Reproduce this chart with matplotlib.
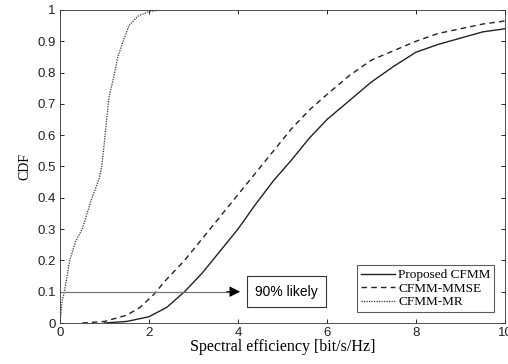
import matplotlib
matplotlib.use("Agg")
import matplotlib.pyplot as plt

# Proposed CFMM (solid)
prop_x = [1.0, 1.5, 2.0, 2.4, 2.8, 3.2, 3.6, 4.0, 4.4, 4.8, 5.2, 5.6, 6.0,
          6.5, 7.0, 7.5, 8.0, 8.5, 9.0, 9.5, 10.0]
prop_y = [0.0, 0.005, 0.02, 0.05, 0.1, 0.16, 0.23, 0.3, 0.38, 0.455, 0.52,
          0.59, 0.65, 0.71, 0.77, 0.82, 0.865, 0.89, 0.91, 0.93, 0.94]

# CFMM-MMSE (dashed)
mmse_x = [0.5, 1.0, 1.5, 1.8, 2.1, 2.4, 2.8, 3.2, 3.6, 4.0, 4.4, 4.8, 5.2,
          5.6, 6.0, 6.5, 7.0, 7.5, 8.0, 8.5, 9.0, 9.5, 10.0]
mmse_y = [0.0, 0.005, 0.025, 0.05, 0.09, 0.14, 0.2, 0.27, 0.34, 0.41, 0.48,
          0.55, 0.62, 0.68, 0.73, 0.79, 0.84, 0.87, 0.9, 0.925, 0.94, 0.955,
          0.965]

# CFMM-MR (dotted)
mr_x = [0.0, 0.05, 0.1, 0.22, 0.35, 0.5, 0.72, 0.88, 0.94, 1.0, 1.05, 1.1,
        1.2, 1.3, 1.42, 1.55, 1.75, 2.0, 2.25]
mr_y = [0.0, 0.07, 0.1, 0.2, 0.26, 0.3, 0.4, 0.46, 0.5, 0.58, 0.65, 0.72,
        0.78, 0.85, 0.9, 0.95, 0.98, 0.995, 1.0]

# 90% marker
mark_level = 0.1
arrow_end = 4.05

x_ticks = [0, 2, 4, 6, 8, 10]
y_ticks = [0, 0.1, 0.2, 0.3, 0.4, 0.5, 0.6, 0.7, 0.8, 0.9, 1]

SERIF = "Liberation Serif"
SANS = "Liberation Sans"

fig = plt.figure(figsize=(5.08, 3.64), dpi=100)
ax = fig.add_axes([0.118, 0.1126, 0.876, 0.86])

ax.plot(prop_x, prop_y, color="#222222", linewidth=1.0, linestyle="-",
        label="Proposed CFMM")
ax.plot(mmse_x, mmse_y, color="#222222", linewidth=1.0, linestyle=(0, (4, 3)),
        label="CFMM-MMSE")
ax.plot(mr_x, mr_y, color="#333333", linewidth=0.9, linestyle=(0, (1, 1)),
        label="CFMM-MR")

# horizontal grey shaft, black head
ax.plot([0, arrow_end - 0.15], [mark_level, mark_level], color="#777777",
        linewidth=0.9)
ax.annotate("", xy=(arrow_end, mark_level), xytext=(arrow_end - 0.3, mark_level),
            arrowprops=dict(arrowstyle="-|>", color="black", lw=0.8,
                            mutation_scale=16, shrinkA=0, shrinkB=0))
ax.text(5.09, mark_level, "90% likely", family=SANS, fontsize=10,
        ha="center", va="center",
        bbox=dict(facecolor="white", edgecolor="#333333", linewidth=0.8,
                  boxstyle="square,pad=0.6"))

ax.set_xlim(0, 10)
ax.set_ylim(0, 1)
ax.set_xticks(x_ticks)
ax.set_yticks(y_ticks)
ax.set_xticklabels([str(t) for t in x_ticks], family=SANS, fontsize=9.5,
                   color="#222222")
ax.set_yticklabels([f"{t:g}" for t in y_ticks], family=SANS, fontsize=9.5,
                   color="#222222")
ax.tick_params(direction="in", top=True, right=True, length=3, width=0.6,
               pad=3)
for s in ax.spines.values():
    s.set_linewidth(0.6)
    s.set_color("#333333")

ax.set_xlabel("Spectral efficiency [bit/s/Hz]", family=SERIF, fontsize=11.5,
              labelpad=0)
ax.set_ylabel("CDF", family=SERIF, fontsize=10, labelpad=4)

leg = ax.legend(loc="lower right", prop=dict(family=SERIF, size=9.5),
                frameon=True, fancybox=False, edgecolor="#333333",
                borderpad=0.3, labelspacing=0.1, handlelength=2.6,
                handletextpad=0.2, borderaxespad=0.8)
leg.get_frame().set_linewidth(0.8)

fig.savefig("out.png", dpi=100, facecolor="white")
